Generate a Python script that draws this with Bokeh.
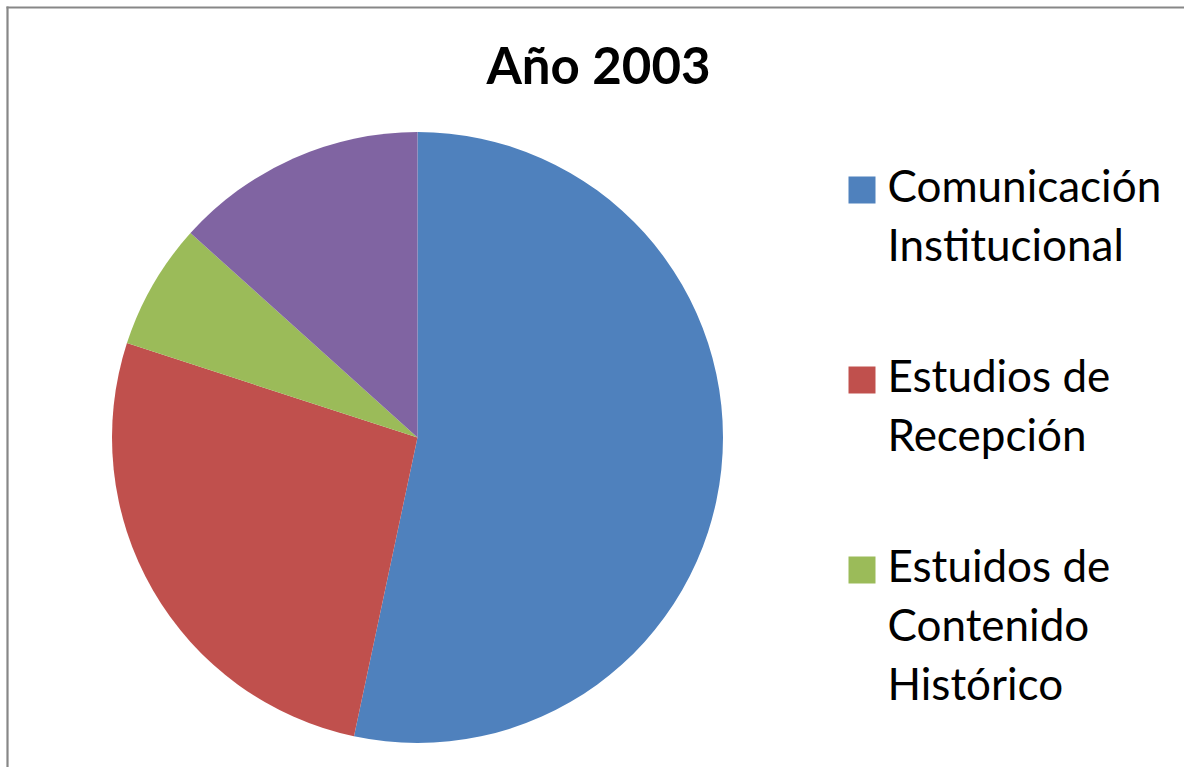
import numpy as np
from bokeh.plotting import figure
from bokeh.models import Range1d, ColumnDataSource
from bokeh.core.properties import value
from bokeh.embed import file_html
from bokeh.resources import INLINE

# ---- data ----
title_text = "Año 2003"
categories = ["Comunicación\nInstitucional", "Estudios de\nRecepción",
              "Estuidos de\nContenido\nHistórico", "Otros"]
values = [8, 4, 1, 2]
colors = ["#4F81BD", "#C0504D", "#9BBB59", "#8064A2"]

# ---- layout (pixel-like data space: x = ref x, y = 767 - ref y) ----
W, H = 1184, 767
def ry(y):
    return H - y

p = figure(width=W, height=H, output_backend="svg", toolbar_location=None,
           x_range=Range1d(0, W), y_range=Range1d(0, H),
           min_border=0, outline_line_color=None, background_fill_color="white",
           border_fill_color="white")
p.axis.visible = False
p.grid.visible = False

# border (left and top edges only visible in reference)
border_col = "#878787"
p.segment(x0=[7, 6], y0=[ry(6), ry(7)], x1=[7, W], y1=[ry(H), ry(7)],
          line_color=border_col, line_width=2.2)

# ---- pie ----
vals = np.array(values, dtype=float)
frac = vals / vals.sum()
cum = np.concatenate([[0], np.cumsum(frac)])
start = np.pi / 2 - cum[:-1] * 2 * np.pi
end = np.pi / 2 - cum[1:] * 2 * np.pi
cx, cy, r = 417, ry(437), 305.5
src = ColumnDataSource(dict(start=start, end=end, color=colors))
p.wedge(x=cx, y=cy, radius=r, start_angle="start", end_angle="end",
        direction="clock", fill_color="color", line_color=None, source=src)

# ---- title ----
p.text(x=[598], y=[ry(83 - 19)], text=[title_text], text_align="center",
       text_baseline="alphabetic", text_font=value("Lato"),
       text_font_style="bold", text_font_size="51px", text_color="black")

# ---- legend (manual, multi-line labels) ----
line_h = 59
gap = 72
base = 202.0
txt_shift = 18
tx, ty, tt = [], [], []
sx, sy, sc = [], [], []
for cat, col in zip(categories, colors):
    lines = cat.split("\n")
    if base - 27 > H:
        break
    sx.append(861.5)
    sy.append(ry(base - 12.5))
    sc.append(col)
    for i, ln in enumerate(lines):
        tx.append(887)
        ty.append(ry(base + i * line_h - txt_shift))
        tt.append(ln)
    base += len(lines) * line_h + gap

p.rect(x=sx, y=sy, width=27, height=27, fill_color=sc, line_color=None)
p.text(x=tx, y=ty, text=tt, text_align="left", text_baseline="alphabetic",
       text_font=value("Lato"), text_font_size="44px", text_color="black")

open("out.html", "w").write(file_html(p, INLINE))
